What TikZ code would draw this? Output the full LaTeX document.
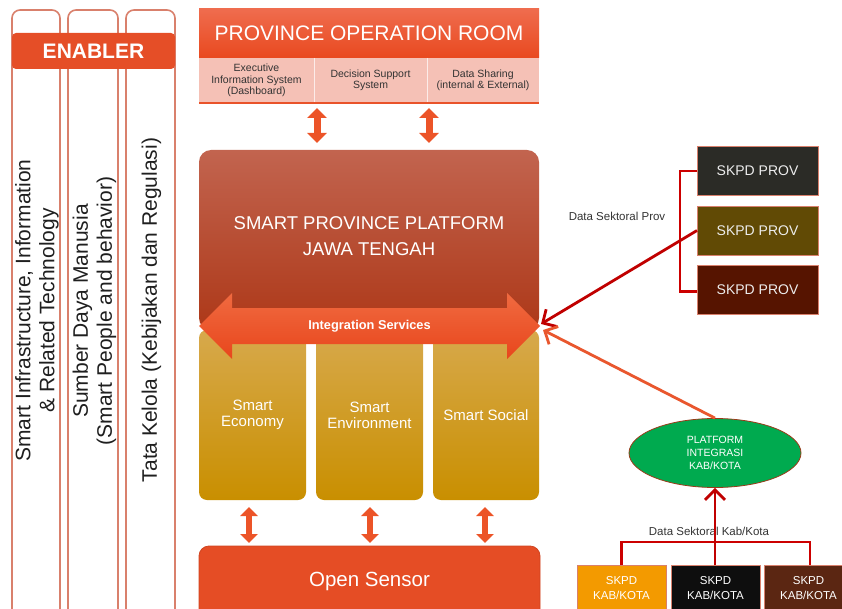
\documentclass[tikz,border=0pt]{standalone}
\usepackage{fontspec}
\setmainfont{Liberation Sans}
\usetikzlibrary{arrows.meta,shapes.geometric,calc}
\definecolor{colline}{HTML}{D9806C}
\definecolor{enabler}{HTML}{E54E27}
\definecolor{porTop}{HTML}{EF6C4E}
\definecolor{porBot}{HTML}{E9491F}
\definecolor{porsub}{HTML}{F5C1B6}
\definecolor{porline}{HTML}{E9532A}
\definecolor{platTop}{HTML}{C2644F}
\definecolor{platBot}{HTML}{AD3818}
\definecolor{integTop}{HTML}{F06A40}
\definecolor{integBot}{HTML}{E8461C}
\definecolor{yelTop}{HTML}{D7A94C}
\definecolor{yelBot}{HTML}{C98F00}
\definecolor{sensor}{HTML}{E54D25}
\definecolor{sensorDark}{HTML}{D04420}
\definecolor{barrow}{HTML}{EC5428}
\definecolor{prov1}{HTML}{2B2B26}
\definecolor{prov2}{HTML}{614A05}
\definecolor{prov3}{HTML}{561400}
\definecolor{redline}{HTML}{CC0000}
\definecolor{darkred}{HTML}{C00000}
\definecolor{orarrow}{HTML}{E9572E}
\definecolor{kabgreen}{HTML}{00AA4F}
\definecolor{ellborder}{HTML}{9A3B1A}
\definecolor{kab1}{HTML}{F39A00}
\definecolor{kab2}{HTML}{0E0E0E}
\definecolor{kab3}{HTML}{5B2612}
\definecolor{txtgray}{HTML}{333333}
\begin{document}
\begin{tikzpicture}[x=1pt,y=-1pt,
  box/.style={anchor=north west, inner sep=0pt, outer sep=0pt},
  colbox/.style={box, draw=colline, line width=1.6pt, rounded corners=8pt, minimum width=48pt, minimum height=640pt},
  coltext/.style={rotate=90, align=center, text=black!88, font=\fontsize{21}{24}\selectfont},
  subcell/.style={box, fill=porsub, minimum height=45pt, align=center, text=txtgray, font=\fontsize{10.5}{11.5}\selectfont},
  yelbox/.style={box, rounded corners=8pt, minimum width=107pt, minimum height=170pt, top color=yelTop, bottom color=yelBot, text=white, align=center, font=\fontsize{15}{16}\selectfont},
  bigdarrow/.style={barrow, line width=7pt, {Triangle[width=19pt,length=10pt]}-{Triangle[width=19pt,length=10pt]}},
  smalldarrow/.style={barrow, line width=6pt, {Triangle[width=17pt,length=9pt]}-{Triangle[width=17pt,length=9pt]}},
  provbox/.style={box, draw=colline, line width=0.8pt, minimum width=121pt, minimum height=49pt, text=white!93!black, font=\fontsize{14}{16}\selectfont},
  kabbox/.style={box, draw=colline, line width=0.8pt, minimum width=89pt, minimum height=46pt, text=white, align=center, font=\fontsize{11.5}{15}\selectfont},
  bracket/.style={redline, line width=2.8pt},
  thinarrow/.style={line width=2.8pt, -{Straight Barb[length=10pt,width=20pt]}},
  smalltext/.style={text=txtgray, font=\fontsize{11.5}{13}\selectfont}
]
\useasboundingbox (0,0) rectangle (842,609);

% ---------- ENABLER columns ----------
\node[colbox] (col1) at (12,10) {};
\node[colbox, minimum width=50pt] (col2) at (68,10) {};
\node[colbox, minimum width=49pt] (col3) at (126,10) {};
\node[box, fill=enabler, rounded corners=4pt, minimum width=163pt, minimum height=36pt,
      text=white, font=\fontsize{21}{24}\selectfont\bfseries] (enab) at (12,33) {ENABLER};
\node[coltext] (t1) at (37,310.5) {Smart Infrastructure, Information\\\& Related Technology};
\node[coltext] (t2) at (94.5,311) {Sumber Daya Manusia\\(Smart People and behavior)};
\node[coltext] (t3) at (151.5,310) {Tata Kelola (Kebijakan dan Regulasi)};

% ---------- Province Operation Room ----------
\node[box, minimum width=340pt, minimum height=49pt, top color=porTop, bottom color=porBot,
      text=white, font=\fontsize{21}{24}\selectfont] (por) at (199,9) {PROVINCE OPERATION ROOM};
\node[subcell, minimum width=115pt] (eis) at (199,58) {Executive\\Information System\\(Dashboard)};
\node[subcell, minimum width=113pt] (dss) at (314,58) {Decision Support\\System};
\node[subcell, minimum width=112pt] (dsh) at (427,58) {Data Sharing\\(internal \& External)};
\draw[white!70!porsub, line width=0.8pt] (eis.north east) -- (eis.south east);
\draw[white!70!porsub, line width=0.8pt] (dss.north east) -- (dss.south east);
\draw[porline, line width=1.6pt] (eis.south west) -- (dsh.south east);

% ---------- Smart Province Platform ----------
\node[box, rounded corners=12pt, minimum width=340pt, minimum height=180pt,
      top color=platTop, bottom color=platBot] (plat) at (199,150) {};
\node[text=white, align=center, font=\fontsize{18.5}{26}\selectfont] (platT) at (369,236)
      {SMART PROVINCE PLATFORM\\JAWA TENGAH};

\coordinate (xa) at (317,0);
\coordinate (xb) at (429,0);
\draw[bigdarrow] ([yshift=-5pt]xa |- dss.south) -- ([yshift=7pt]xa |- plat.north);
\draw[bigdarrow] ([yshift=-5pt]xb |- dsh.south) -- ([yshift=7pt]xb |- plat.north);

% ---------- Smart boxes ----------
\node[yelbox] (eco) at (199,330) {Smart\\Economy};
\node[yelbox] (env) at (316,330) {Smart\\Environment};
\node[yelbox, minimum width=106pt] (soc) at (433,330) {Smart Social};

% ---------- Integration Services ----------
\coordinate (integL) at (199,326);
\coordinate (integR) at (540,326);
\shade[top color=integTop, bottom color=integBot]
  (integL) -- (232,293) -- (232,308) -- (507,308) -- (507,293) -- (integR)
  -- (507,359) -- (507,344) -- (232,344) -- (232,359) -- cycle;
\node[text=white, font=\fontsize{12.8}{14}\selectfont\bfseries] (integ) at (369.5,326) {Integration Services};

% ---------- Open Sensor ----------
\node[box, rounded corners=10pt, minimum width=341pt, minimum height=90pt,
      fill=sensor, draw=sensorDark, line width=0.8pt] (sens) at (199,546) {};
\node[text=white, font=\fontsize{20.5}{24}\selectfont] (sensT) at (369.5,581) {Open Sensor};

\coordinate (xc) at (249,0);
\coordinate (xd) at (370,0);
\coordinate (xe) at (485,0);
\draw[smalldarrow] ([yshift=-7pt]xc |- eco.south) -- ([yshift=3pt]xc |- sens.north);
\draw[smalldarrow] ([yshift=-7pt]xd |- env.south) -- ([yshift=3pt]xd |- sens.north);
\draw[smalldarrow] ([yshift=-7pt]xe |- soc.south) -- ([yshift=3pt]xe |- sens.north);

% ---------- SKPD PROV ----------
\node[provbox, fill=prov1] (p1) at (697,146) {SKPD PROV};
\node[provbox, fill=prov2] (p2) at (697,206) {SKPD PROV};
\node[provbox, fill=prov3] (p3) at (697,265) {SKPD PROV};
\draw[bracket] ([yshift=-0.5pt]p1.west) -- ++(-17,0) |- ([yshift=-2pt]p3.west);
\node[smalltext] (dsp) at (617,216) {Data Sektoral Prov};
\coordinate (tipA) at (541,324);
\coordinate (tipB) at (543,330);
\draw[thinarrow, darkred] (p2.west) -- (tipA);

% ---------- Platform Integrasi Kab/Kota ----------
\node[ellipse, fill=kabgreen, draw=ellborder, line width=0.8pt, minimum width=172pt, minimum height=69pt,
      inner sep=0pt, text=white, align=center, font=\fontsize{10.5}{13}\selectfont] (pik) at (715,453)
      {PLATFORM\\INTEGRASI\\KAB/KOTA};
\draw[thinarrow, orarrow] (pik.north) -- (tipB);

\node[kabbox, fill=kab1] (k1) at (577,565) {SKPD\\KAB/KOTA};
\node[kabbox, fill=kab2] (k2) at (671,565) {SKPD\\KAB/KOTA};
\node[kabbox, fill=kab3] (k3) at (764,565) {SKPD\\KAB/KOTA};
\node[smalltext] (dsk) at (709,531) {Data Sektoral Kab/Kota};
\draw[bracket] (k1.north) -- ++(0,-23) -| ([xshift=1.5pt]k3.north);
\draw[bracket, thinarrow, darkred] (pik.south |- k2.north) -- (pik.south);
\end{tikzpicture}
\end{document}
